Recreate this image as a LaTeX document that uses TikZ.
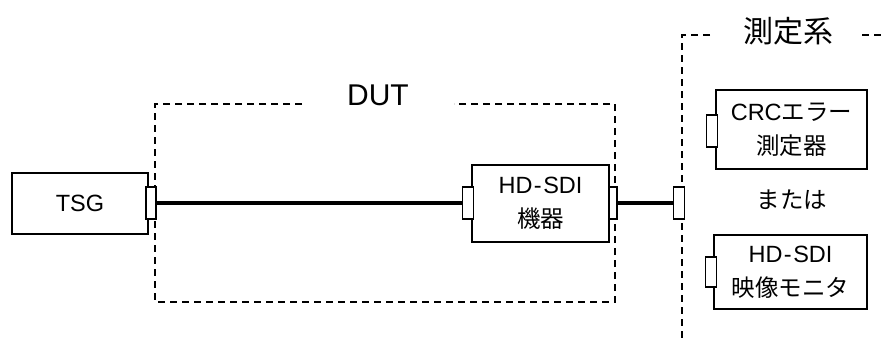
\documentclass[tikz,border=0pt]{standalone}
\usepackage{fontspec}
\setmainfont{Liberation Sans}
\newfontfamily\jpfont{Noto Sans CJK JP}
\newcommand\hdsdi{HD\kern1.5pt-\kern1.5pt SDI}
\begin{document}
\begin{tikzpicture}[x=1pt,y=-1pt,
  box/.style={draw, line width=1.6pt, fill=white, inner sep=0pt, align=center,
    font=\fontsize{23.5}{34}\selectfont},
  conn/.style={draw, line width=1.6pt, fill=white, inner sep=0pt, minimum width=11pt, minimum height=32pt},
  cable/.style={line width=4.5pt},
  frame/.style={line width=2.3pt, dash pattern=on 7pt off 5pt},
  title/.style={font=\fontsize{30}{30}\selectfont, inner sep=0pt},
  body/.style={font=\fontsize{23.5}{23.5}\selectfont, inner sep=0pt}]
\useasboundingbox (0,0) rectangle (885,338);
% DUT frame
\coordinate (d1) at (302,104);
\coordinate (d2) at (155,104);
\coordinate (d3) at (155,302);
\coordinate (d4) at (615,302);
\coordinate (d5) at (615,104);
\coordinate (d6) at (454,104);
\draw[frame] (d1) -- (d2) -- (d3) -- (d4) -- (d5) -- (d6);
\node[title] (dut) at (378,95) {DUT};
% measurement frame
\coordinate (m1) at (710,35);
\coordinate (m2) at (682,35);
\coordinate (m3) at (682,338);
\coordinate (m4) at (862,35);
\coordinate (m5) at (885,35);
\draw[frame] (m1) -- (m2) -- (m3);
\draw[frame] (m4) -- (m5);
\node[title] (meas) at (788,31) {\jpfont 測定系};
% boxes
\node[box, minimum width=136pt, minimum height=61pt] (tsg) at (80,203.5) {TSG};
\node[box, minimum width=137pt, minimum height=77pt] (hd) at (540.5,203.5) {\hdsdi\\\jpfont 機器};
\node[box, minimum width=151pt, minimum height=79pt] (crc) at (791.5,129.5) {CRC{\jpfont エラー}\\\jpfont 測定器};
\node[body] (or) at (792,200) {\jpfont または};
\node[box, minimum width=153pt, minimum height=74pt] (mon) at (790.5,272) {\hdsdi\\\jpfont 映像モニタ};
% connectors
\node[conn, minimum width=10pt] (tsgc) at (151,203) {};
\node[conn] (hdl) at (468,203) {};
\node[conn, minimum width=8pt] (hdr) at (613,203) {};
\node[conn] (msc) at (679,203) {};
\node[conn] (crcc) at (712,131) {};
\node[conn, minimum height=30pt] (monc) at (711,272) {};
% cables
\draw[cable] (tsgc.east) -- (hdl.west);
\draw[cable] (hdr.east) -- (msc.west);
\end{tikzpicture}
\end{document}
